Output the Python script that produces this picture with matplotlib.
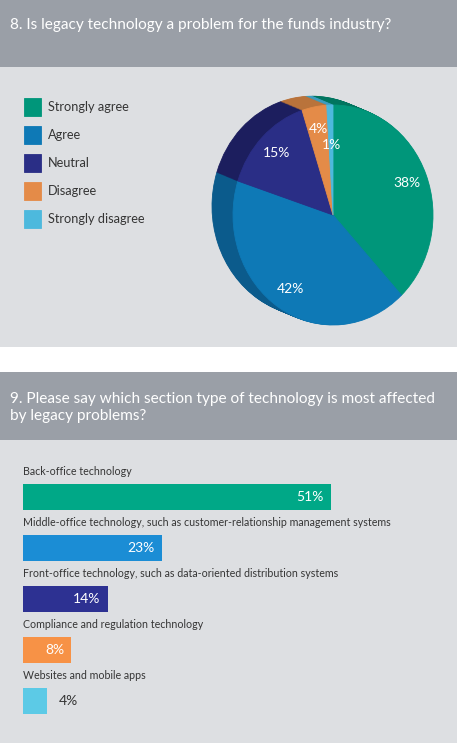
import matplotlib
matplotlib.use('Agg')
import matplotlib.pyplot as plt
from matplotlib.patches import Rectangle

W, H, DPI = 457, 743, 100

# ---------------- data ----------------
pie_labels = ['Strongly agree', 'Agree', 'Neutral', 'Disagree', 'Strongly disagree']
pie_values = [38, 42, 15, 4, 1]
pie_face_colors = ['#00967a', '#0e79b6', '#2a2e86', '#e48b48', '#4db9dd']
pie_side_colors = ['#00755f', '#0b5b8c', '#1c1e5e', '#b9733b', '#3b9cbf']

bar_labels = ['Back-office technology',
              'Middle-office technology, such as customer-relationship management systems',
              'Front-office technology, such as data-oriented distribution systems',
              'Compliance and regulation technology',
              'Websites and mobile apps']
bar_values = [51, 23, 14, 8, 4]
bar_colors = ['#00a887', '#1b8dd5', '#2d3192', '#f79246', '#5ccae6']

title1 = '8. Is legacy technology a problem for the funds industry?'
title2_lines = ['9. Please say which section type of technology is most affected',
                'by legacy problems?']

# ---------------- style ----------------
plt.rcParams['font.family'] = ['Lato', 'DejaVu Sans']
HEADER = '#9a9fa7'
PANEL = '#dddfe2'
TEXT_DARK = '#353535'

fig = plt.figure(figsize=(W / DPI, H / DPI), dpi=DPI)


def px_axes(x0, y0, x1, y1):
    return fig.add_axes([x0 / W, 1 - y1 / H, (x1 - x0) / W, (y1 - y0) / H])


def seal(wedge_list):
    for w in wedge_list:
        w.set_edgecolor(w.get_facecolor())
        w.set_linewidth(0.6)


# background panels and headers
bg = px_axes(0, 0, W, H)
bg.set_xlim(0, W)
bg.set_ylim(H, 0)
bg.axis('off')
bg.add_patch(Rectangle((0, 0), W, 67, color=HEADER, lw=0))
bg.add_patch(Rectangle((0, 67), W, 280, color=PANEL, lw=0))
bg.add_patch(Rectangle((0, 347), W, 25, color='white', lw=0))
bg.add_patch(Rectangle((0, 372), W, 68, color=HEADER, lw=0))
bg.add_patch(Rectangle((0, 440), W, 303, color=PANEL, lw=0))
TS = 11.1
bg.text(10, 28.5, title1, color='white', fontsize=TS, ha='left', va='baseline')
bg.text(10, 403, title2_lines[0], color='white', fontsize=TS, ha='left', va='baseline')
bg.text(10, 420, title2_lines[1], color='white', fontsize=TS, ha='left', va='baseline')

# ---------------- pie (extruded) ----------------
cx, cy, rx, ry = 333, 215, 100, 110
ax_pie = px_axes(200, 80, 450, 340)
dx, dy = -0.21, 0.08
n_layers = 24
for k in range(n_layers):
    t = 1 - k / n_layers
    side_w, _ = ax_pie.pie(pie_values, colors=pie_side_colors, startangle=90,
                           counterclock=False, center=(dx * t, dy * t))
    seal(side_w)

wedges, texts, autotexts = ax_pie.pie(
    pie_values, colors=pie_face_colors, labels=pie_labels, labeldistance=None,
    startangle=90, counterclock=False, autopct=lambda p: f'{p:.0f}%',
    pctdistance=0.8, textprops=dict(color='white', fontsize=10))
seal(wedges)
# smallest slice label sits a bit closer to the centre
x1, y1 = autotexts[-1].get_position()
autotexts[-1].set_position((x1 * 0.8, y1 * 0.8))

ax_pie.set_aspect('auto')
ax_pie.set_xlim((200 - cx) / rx, (450 - cx) / rx)
ax_pie.set_ylim((cy - 340) / ry, (cy - 80) / ry)
ax_pie.axis('off')

LFS = 9.2
lfs_px = LFS * DPI / 72
leg = fig.legend(handles=wedges, labels=pie_labels, loc='upper left',
                 bbox_to_anchor=(24 / W, 1 - 98 / H), bbox_transform=fig.transFigure,
                 frameon=False, borderpad=0, borderaxespad=0,
                 fontsize=LFS, handlelength=17 / lfs_px, handleheight=1.786,
                 handletextpad=0.55, labelspacing=10 / lfs_px)
for t in leg.get_texts():
    t.set_color(TEXT_DARK)

# ---------------- bars ----------------
px_per_pct = 6.04
step = 51
first_c = 497
ax_bar = px_axes(23, first_c - 1.0 * step, 23 + 60 * px_per_pct, first_c + 4.6 * step)
ypos = list(range(len(bar_values)))
ax_bar.barh(ypos, bar_values, height=26 / step, color=bar_colors, linewidth=0)
ax_bar.set_xlim(0, 60)
ax_bar.set_ylim(4.6, -1.0)
ax_bar.axis('off')
for i, (lab, v) in enumerate(zip(bar_labels, bar_values)):
    ax_bar.text(0, i - 0.5, lab, ha='left', va='center', fontsize=7.7,
                color=TEXT_DARK, clip_on=False)
    if v >= 5:
        ax_bar.text(v - 1.2, i, f'{v}%', ha='right', va='center', fontsize=10,
                    color='white')
    else:
        ax_bar.text(v + 1.9, i, f'{v}%', ha='left', va='center', fontsize=10,
                    color=TEXT_DARK)

fig.savefig('out.png', dpi=DPI)
